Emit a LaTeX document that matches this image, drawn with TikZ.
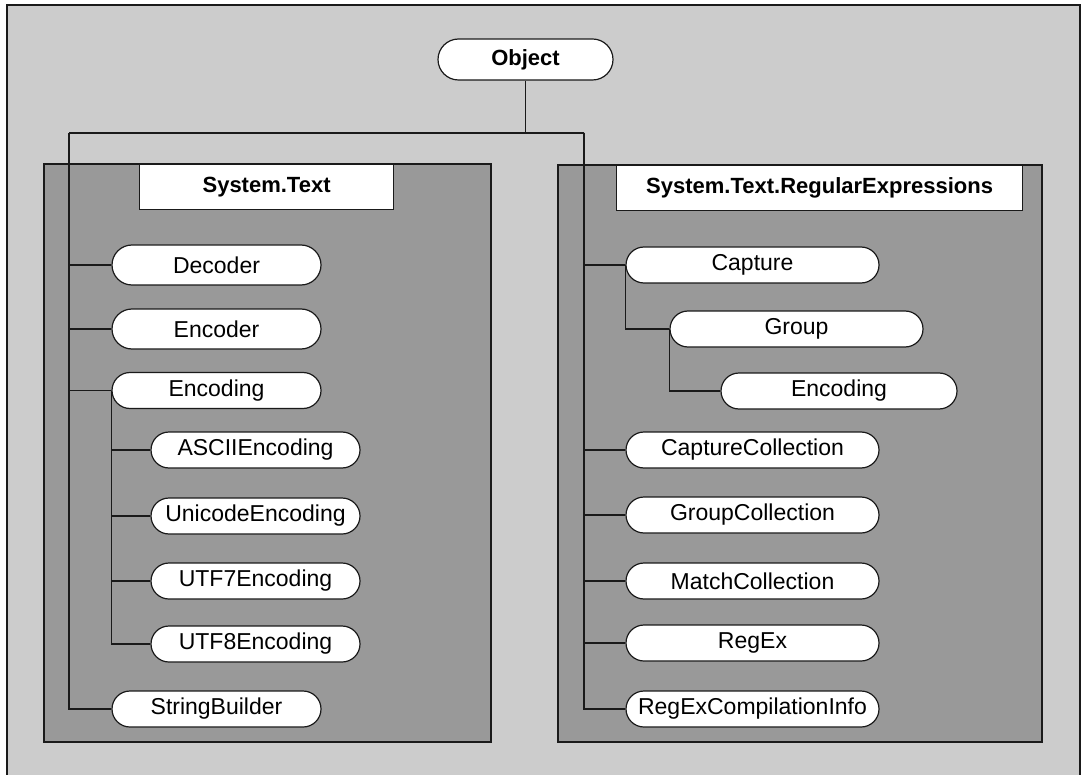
\documentclass[tikz,border=0pt]{standalone}
\usepackage{fontspec}
\setmainfont{Liberation Sans}
\usepackage{tikz}
\usetikzlibrary{positioning,shapes.misc}
\definecolor{framegrey}{HTML}{CCCCCC}
\definecolor{panelgrey}{HTML}{999999}
\definecolor{inkdark}{HTML}{1A1A1A}
\tikzset{
  % ---- class pills ----------------------------------------------------
  cpill/.style={
    rounded rectangle, draw=inkdark, line width=1.2pt, fill=white,
    minimum width=209pt, minimum height=36pt, inner sep=0pt,
    font=\fontsize{23}{27}\selectfont},
  ctall/.style={cpill, minimum height=40pt},
  cwide/.style={cpill, minimum width=253pt},
  croot/.style={cpill, minimum width=175pt, minimum height=41pt,
                font=\fontsize{22}{26}\selectfont\bfseries},
  % ---- namespace panels -----------------------------------------------
  cpanel/.style={draw=inkdark, line width=1.2pt, fill=panelgrey},
  ctitle/.style={
    draw=inkdark, line width=1.2pt, fill=white, anchor=north west,
    minimum height=45pt, inner sep=0pt,
    font=\fontsize{22}{26}\selectfont\bfseries},
  % ---- tree lines -----------------------------------------------------
  ctree/.style={draw=inkdark, line width=1.2pt},
}

\begin{document}
\begin{tikzpicture}[x=1pt, y=-1pt]
\useasboundingbox (0,0) rectangle (1083,775);
\draw[cpanel, fill=framegrey] (7,5) rectangle (1080,790);

% ---------------- namespace panels -----------------------------------
\draw[cpanel] (44,164) rectangle (491,742);
\draw[cpanel] (558,165) rectangle (1042,742);
\node[ctitle, minimum width=254pt] (texttitle) at (139,164) {System.Text};
\node[ctitle, minimum width=406pt] (regextitle) at (616,165)
  {System.Text.RegularExpressions};

% ---------------- root -----------------------------------------------
\node[croot] (object) at (525.5,59.5) {Object};
\coordinate (forkL) at (69,133);
\coordinate (forkR) at (584,133);
\draw[ctree] (object.south) -- (object.south |- forkL);
\draw[ctree] (forkL) -- (forkR);

% ---------------- System.Text ----------------------------------------
\node[ctall] (decoder) at (216.5,265) {Decoder};
\node[ctall] (encoder) at (216.5,329) {Encoder};
\node[cpill] (encoding) at (216.5,390.5) {Encoding};
\foreach \n/\t/\y in {ascii/ASCIIEncoding/450, unicode/UnicodeEncoding/516,
                      utf7/UTF7Encoding/581, utf8/UTF8Encoding/644}{
  \node[cpill] (\n) at (255.5,\y) {\t};
  \draw[ctree] (encoding.west) |- (\n.west);
}
\node[cpill] (builder) at (216.5,709) {StringBuilder};
\foreach \n in {decoder,encoder,encoding,builder}
  \draw[ctree] (forkL) |- (\n.west);

% ---------------- System.Text.RegularExpressions ---------------------
\node[cwide] (capture) at (752.5,265) {Capture};
\node[cwide] (group) at (796.5,329) {Group};
\node[cwide, minimum width=236pt] (rxencoding) at (839,391) {Encoding};
\draw[ctree] (capture.west) |- (group.west);
\draw[ctree] (group.west) |- (rxencoding.west);
\foreach \n/\t/\y in {capcoll/CaptureCollection/450, groupcoll/GroupCollection/515,
                      matchcoll/MatchCollection/581, regex/RegEx/643,
                      compinfo/RegExCompilationInfo/709}
  \node[cwide] (\n) at (752.5,\y) {\t};
\foreach \n in {capture,capcoll,groupcoll,matchcoll,regex,compinfo}
  \draw[ctree] (forkR) |- (\n.west);

\end{tikzpicture}
\end{document}
